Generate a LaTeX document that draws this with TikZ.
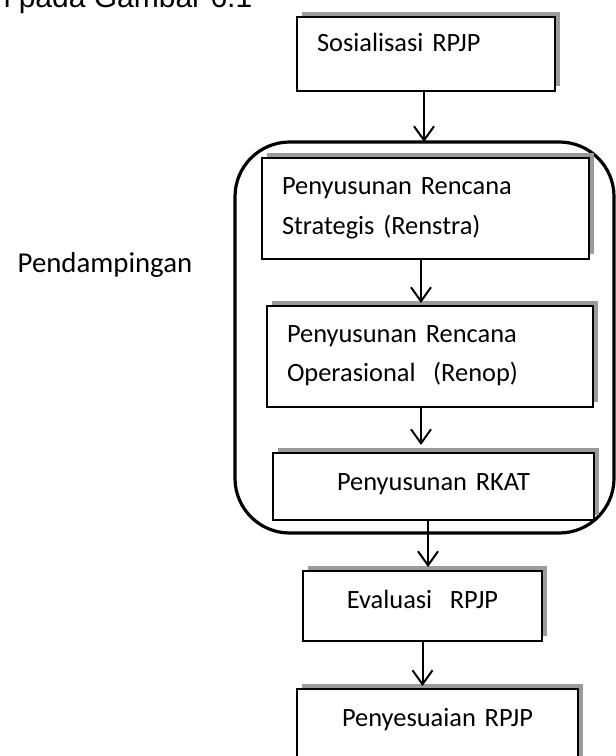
\documentclass[tikz,border=0pt]{standalone}
\usepackage{fontspec}
\usepackage{xcolor}
\setmainfont{Carlito}
\newfontfamily\arialfont{Liberation Sans}
\usetikzlibrary{arrows.meta, shadows}
\definecolor{flowShadow}{RGB}{155,155,155}
\definecolor{flowLine}{RGB}{0,0,0}

\begin{document}
\begin{tikzpicture}[
    x=0.75pt, y=-0.75pt,
    box/.style={draw=flowLine, line width=1.5pt, fill=white, anchor=north west, outer sep=0pt, inner xsep=15pt, inner ysep=0pt, align=left, text height=27.75pt, font=\fontsize{19.8}{29.25}\selectfont, general shadow={fill=flowShadow, shadow xshift=3.75pt, shadow yshift=3.75pt}},
    boxc/.style={box, align=center},
    group/.style={draw=flowLine, line width=2.4pt, rounded corners=41pt, anchor=north west, outer sep=0pt, inner sep=0pt},
    arrow/.style={-{Straight Barb[length=10.5pt, width=15pt]}, line width=1.5pt, draw=flowLine}
]
    \useasboundingbox (0,0) rectangle (616,756);
    \clip (0,0) rectangle (616,756);

    \node[font=\arialfont\fontsize{22.5}{27}\selectfont, anchor=base east] (caption) at (257,8) {n pada Gambar 6.1};
    \node[box, text height=26.25pt, text depth=29.25pt, text width=163.5pt] (sos) at (297,17) {Sosialisasi RPJP};
    \node[group, minimum width=284.25pt, minimum height=293.25pt] (pend) at (235,142) {};
    \node[font=\fontsize{21.6}{26}\selectfont, anchor=base west] (pendlabel) at (13,272) {Pendampingan};
    \node[box, text depth=48pt, text width=215.25pt] (renstra) at (262,158) {Penyusunan Rencana\\Strategis (Renstra)};
    \node[box, text height=27pt, text depth=48.75pt, text width=214.5pt] (renop) at (267,306) {Penyusunan Rencana\\Operasional\ \ (Renop)};
    \node[boxc, text depth=22.5pt, text width=210.75pt] (rkat) at (273,453) {Penyusunan RKAT};
    \node[boxc, text depth=24.75pt, text width=149.25pt] (eval) at (303,571) {Evaluasi\ \ RPJP};
    \node[boxc, text depth=33.75pt, text width=180.75pt] (pen) at (297,689) {Penyesuaian RPJP};

    \draw[arrow] ([xshift=-1.5pt]sos.south) -- ([xshift=-1.5pt]sos.south |- pend.north);
    \draw[arrow] ([xshift=-3.4pt]renstra.south) -- ([xshift=-3.4pt, yshift=2.25pt]renstra.south |- renop.north);
    \draw[arrow] ([xshift=-6.75pt]renop.south) -- ([xshift=-6.75pt, yshift=6pt]renop.south |- rkat.north);
    \draw[arrow] ([xshift=-4.1pt]rkat.south) -- ([xshift=-4.1pt, yshift=3pt]rkat.south |- eval.north);
    \draw[arrow] (eval.south) -- ([yshift=2.25pt]eval.south |- pen.north);
\end{tikzpicture}
\end{document}
